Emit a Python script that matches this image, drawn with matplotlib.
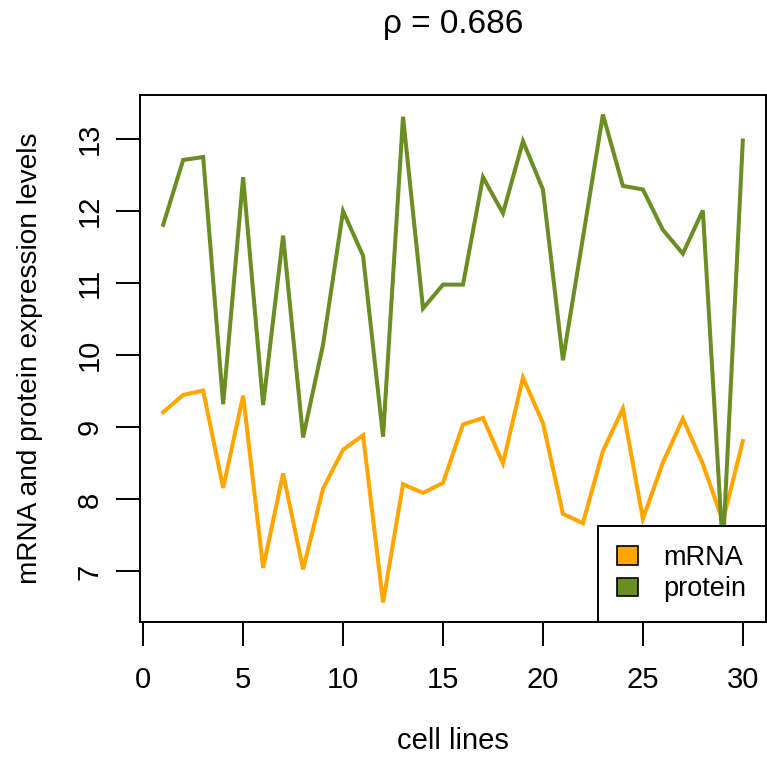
import matplotlib
matplotlib.use("Agg")
import matplotlib.pyplot as plt
from matplotlib.patches import Patch

plt.rcParams['font.family'] = ['Liberation Sans', 'DejaVu Sans']

cell_lines = list(range(1, 31))
mrna = [9.21, 9.45, 9.51, 8.16, 9.44, 7.05, 8.36, 7.03, 8.15, 8.69,
        8.89, 6.57, 8.21, 8.09, 8.23, 9.04, 9.13, 8.50, 9.69, 9.06,
        7.80, 7.67, 8.67, 9.26, 7.73, 8.51, 9.12, 8.49, 7.70, 8.81]
protein = [11.81, 12.71, 12.75, 9.32, 12.47, 9.31, 11.66, 8.86, 10.15, 12.00,
           11.38, 8.87, 13.31, 10.65, 10.98, 10.98, 12.47, 11.97, 12.97, 12.30,
           9.93, 11.63, 13.34, 12.35, 12.30, 11.74, 11.41, 12.01, 7.31, 12.98]
x_ticks = [0, 5, 10, 15, 20, 25, 30]
y_ticks = [7, 8, 9, 10, 11, 12, 13]
series_names = ["mRNA", "protein"]
series_colors = ["#FFA500", "#6B8E23"]
title_text = "\u03c1 = 0.686"

W, H = 767, 758
fig = plt.figure(figsize=(W / 100, H / 100), dpi=100)
ax = fig.add_axes([140 / W, 1 - 622 / H, (766 - 140) / W, (622 - 95) / H])

ax.plot(cell_lines, mrna, color=series_colors[0], lw=2.9, solid_joinstyle='miter')
ax.plot(cell_lines, protein, color=series_colors[1], lw=2.9, solid_joinstyle='miter')

xr = max(cell_lines) - min(cell_lines)
ax.set_xlim(min(cell_lines) - 0.04 * xr, max(cell_lines) + 0.04 * xr)
allv = mrna + protein
yr = max(allv) - min(allv)
ax.set_ylim(min(allv) - 0.04 * yr, max(allv) + 0.04 * yr)

ax.set_xticks(x_ticks)
ax.set_yticks(y_ticks)
ax.tick_params(axis='both', direction='out', length=17, width=1.4, labelsize=21)
ax.tick_params(axis='x', pad=15)
ax.tick_params(axis='y', labelrotation=90, pad=9)
for lab in ax.get_yticklabels():
    lab.set_va('center')
for sp in ax.spines.values():
    sp.set_linewidth(1.4)

fig.text(30 / W, 1 - 358 / H, "mRNA and protein expression levels", rotation=90,
         ha='center', va='center', fontsize=20.2)
fig.text(453 / W, 1 - 741 / H, "cell lines", ha='center', va='center', fontsize=21)
fig.text(453 / W, 1 - 25 / H, title_text, ha='center', va='center', fontsize=24)

handles = [Patch(facecolor=c, edgecolor='black', linewidth=1.2) for c in series_colors]
leg = ax.legend(handles, series_names, loc='lower right', fontsize=19.5,
                frameon=True, fancybox=False, borderaxespad=0,
                handlelength=0.74, handleheight=0.67, handletextpad=0.96,
                borderpad=0.72, labelspacing=0.2)
leg.get_frame().set_edgecolor('black')
leg.get_frame().set_linewidth(1.4)
leg.get_frame().set_alpha(1)

fig.savefig("out.png", dpi=100)
